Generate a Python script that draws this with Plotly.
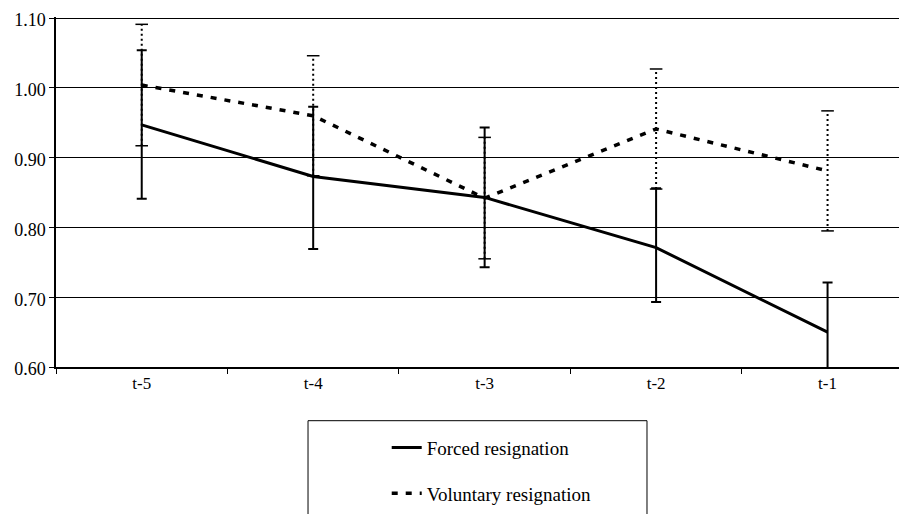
import plotly.graph_objects as go

categories = ["t-5", "t-4", "t-3", "t-2", "t-1"]
forced = [0.947, 0.873, 0.843, 0.771, 0.650]
forced_err_plus = [0.107, 0.100, 0.100, 0.085, 0.071]
forced_err_minus = [0.106, 0.104, 0.100, 0.078, 0.075]
voluntary = [1.004, 0.960, 0.842, 0.941, 0.881]
voluntary_err = [0.087, 0.086, 0.087, 0.086, 0.086]
y_ticks = [0.60, 0.70, 0.80, 0.90, 1.00, 1.10]

FONT = "Liberation Serif, Times New Roman, serif"

fig = go.Figure()

# dotted error bars for voluntary resignation
ex, ey, cx, cy = [], [], [], []
for c, v, e in zip(categories, voluntary, voluntary_err):
    ex += [c, c, None]
    ey += [v - e, v + e, None]
    cx += [c, c]
    cy += [v - e, v + e]
fig.add_trace(go.Scatter(x=ex, y=ey, mode="lines", showlegend=False, hoverinfo="skip",
                         line=dict(color="black", width=2, dash="2px,3px")))
fig.add_trace(go.Scatter(x=cx, y=cy, mode="markers", showlegend=False, hoverinfo="skip",
                         marker=dict(symbol="line-ew", size=9, color="black",
                                     line=dict(color="black", width=1.5))))

fig.add_trace(go.Scatter(x=categories, y=voluntary, mode="lines", name="Voluntary resignation",
                         legendgroup="b", legendrank=2,
                         line=dict(color="black", width=3.5, dash="6px,8px")))

fig.add_trace(go.Scatter(x=categories, y=forced, mode="lines", name="Forced resignation",
                         legendgroup="a", legendrank=1,
                         line=dict(color="black", width=3),
                         error_y=dict(type="data", symmetric=False, array=forced_err_plus,
                                      arrayminus=forced_err_minus, color="black",
                                      thickness=2, width=5)))

fig.add_shape(type="rect", xref="paper", yref="paper", x0=0.2934, x1=0.688, y0=-0.1534, y1=-0.48,
              line=dict(color="black", width=1), fillcolor="white", layer="below")

fig.update_layout(
    width=907, height=514,
    margin=dict(l=48, r=0, t=9, b=155),
    paper_bgcolor="white", plot_bgcolor="white",
    font=dict(family=FONT, size=18, color="black"),
    showlegend=True,
    legend=dict(x=0.385, xanchor="left", y=-0.176, yanchor="top",
                traceorder="grouped", tracegroupgap=18,
                font=dict(family=FONT, size=19, color="black"),
                bgcolor="rgba(0,0,0,0)", borderwidth=0),
    xaxis=dict(type="category", categoryorder="array", categoryarray=categories,
               range=[-0.5, 4.51], showgrid=False, showline=True, linecolor="black",
               linewidth=1.5, ticks="outside", tickson="boundaries", ticklen=5,
               tickcolor="black", tickfont=dict(family=FONT, size=17), zeroline=False,
               automargin=False),
    yaxis=dict(range=[0.6, 1.1015], tickvals=y_ticks, tickformat=".2f", showgrid=True,
               gridcolor="black", gridwidth=1, showline=True, linecolor="black",
               linewidth=1.5, ticks="outside", ticklen=5, tickcolor="black",
               ticklabeloverflow="allow", ticklabelshift=2,
               tickfont=dict(family=FONT, size=18), zeroline=False, automargin=False),
)

fig.write_html("out.html")
